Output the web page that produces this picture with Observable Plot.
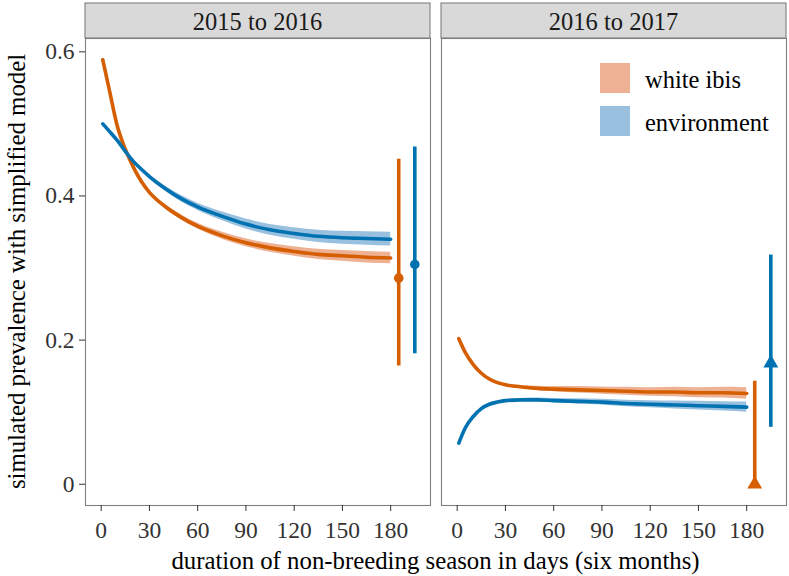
<!DOCTYPE html>
<html><head><meta charset="utf-8">
<script src="https://cdn.jsdelivr.net/npm/d3@7"></script>
<script src="https://cdn.jsdelivr.net/npm/@observablehq/plot@0.6"></script>
<style>
body{margin:0;background:#fff}
svg, svg text{font-family:"Liberation Serif","Times New Roman","DejaVu Serif",serif !important}
</style>
</head><body><div id="chart"></div>
<script>
// ---- data ----
const panels = ["2015 to 2016", "2016 to 2017"];
const seriesNames = ["white ibis", "environment"];
const lineColors = ["#D55E00", "#0072B2"];
const ribbonColors = ["#EEB193", "#99C1DF"];
const xTicks = [0, 30, 60, 90, 120, 150, 180];
const yTicks = [0, 0.2, 0.4, 0.6];
const xTitle = "duration of non-breeding season in days (six months)";
const yTitle = "simulated prevalence with simplified model";

const days = [1, 5, 10, 15, 20, 25, 30, 40, 50, 60, 75, 90, 105, 120, 135, 150, 165, 180];
// simulated prevalence (centre lines)
const ibis2015 = [0.589, 0.548, 0.497, 0.465, 0.440, 0.420, 0.405, 0.385, 0.370, 0.358, 0.345, 0.335, 0.328, 0.323, 0.319, 0.317, 0.315, 0.314];
const env2015  = [0.500, 0.490, 0.477, 0.462, 0.448, 0.437, 0.427, 0.410, 0.396, 0.385, 0.372, 0.361, 0.353, 0.348, 0.344, 0.342, 0.341, 0.340];
const ibis2016 = [0.202, 0.183, 0.166, 0.154, 0.146, 0.141, 0.138, 0.135, 0.133, 0.132, 0.131, 0.130, 0.129, 0.128, 0.128, 0.127, 0.127, 0.126];
const env2016  = [0.057, 0.078, 0.094, 0.105, 0.111, 0.114, 0.116, 0.117, 0.117, 0.116, 0.115, 0.114, 0.112, 0.111, 0.110, 0.109, 0.108, 0.107];
// half-width of the simulation ribbons
const ibis2015Spread = [0, 0, 0.0005, 0.001, 0.001, 0.0015, 0.002, 0.003, 0.0035, 0.004, 0.005, 0.0055, 0.006, 0.0065, 0.007, 0.0075, 0.008, 0.008];
const env2015Spread  = [0, 0, 0.0005, 0.001, 0.0015, 0.002, 0.0025, 0.0035, 0.0045, 0.005, 0.006, 0.007, 0.0075, 0.008, 0.0085, 0.009, 0.0095, 0.0095];
const ibis2016Spread = [0, 0, 0, 0.0005, 0.001, 0.001, 0.0015, 0.002, 0.003, 0.0035, 0.0045, 0.005, 0.0055, 0.006, 0.0065, 0.007, 0.0075, 0.008];
const env2016Spread  = [0, 0, 0, 0.0005, 0.001, 0.001, 0.0015, 0.002, 0.0025, 0.003, 0.0035, 0.004, 0.0045, 0.005, 0.0055, 0.006, 0.0065, 0.007];

// observed prevalence with intervals
const obsPanel  = ["2015 to 2016", "2015 to 2016", "2016 to 2017", "2016 to 2017"];
const obsSeries = ["white ibis", "environment", "white ibis", "environment"];
const obsDay    = [185, 195, 185, 195];
const obsMid    = [0.286, 0.305, 0.000, 0.168];
const obsLow    = [0.164, 0.181, 0.000, 0.079];
const obsHigh   = [0.451, 0.468, 0.143, 0.318];
const obsShape  = ["circle", "circle", "triangle", "triangle"];

// ---- tables ----
const curveSets = [
  [panels[0], seriesNames[0], ibis2015, ibis2015Spread],
  [panels[0], seriesNames[1], env2015, env2015Spread],
  [panels[1], seriesNames[0], ibis2016, ibis2016Spread],
  [panels[1], seriesNames[1], env2016, env2016Spread]
];
const curves = curveSets.flatMap(([panel, series, vals, spread]) =>
  days.map((d, i) => ({panel, series, day: d, y: vals[i], lo: vals[i] - spread[i], hi: vals[i] + spread[i]})));
const obs = obsPanel.map((p, i) => ({panel: p, series: obsSeries[i], day: obsDay[i], mid: obsMid[i], low: obsLow[i], high: obsHigh[i], shape: obsShape[i]}));

const W = 789, H = 576;
const FONT = '"Liberation Serif", "Times New Roman", serif';
const TICK_FS = 23.5, TITLE_FS = 24.8;
const marks = [];
seriesNames.forEach((s, k) => {
  marks.push(Plot.areaY(curves.filter(d => d.series === s), {fx: "panel", x: "day", y1: "lo", y2: "hi", fill: ribbonColors[k], curve: "monotone-x"}));
});
seriesNames.forEach((s, k) => {
  marks.push(Plot.line(curves.filter(d => d.series === s), {fx: "panel", x: "day", y: "y", stroke: lineColors[k], strokeWidth: 3.6, curve: "monotone-x"}));
});
seriesNames.forEach((s, k) => {
  const o = obs.filter(d => d.series === s);
  marks.push(Plot.ruleX(o, {fx: "panel", x: "day", y1: "low", y2: "high", stroke: lineColors[k], strokeWidth: 3.6}));
  marks.push(Plot.dot(o.filter(d => d.shape === "circle"), {fx: "panel", x: "day", y: "mid", fill: lineColors[k], symbol: "circle", r: 4.8}));
  marks.push(Plot.dot(o.filter(d => d.shape === "triangle"), {fx: "panel", x: "day", y: "mid", fill: lineColors[k], symbol: "triangle", r: 5.5}));
});
marks.push(Plot.frame({stroke: "#7f7f7f", strokeWidth: 1.1}));
marks.push(Plot.axisX({ticks: xTicks, tickSize: 6, tickPadding: 10, fontSize: TICK_FS, color: "#333", label: null}));
marks.push(Plot.axisY({ticks: yTicks, tickSize: 6, tickPadding: 5, fontSize: TICK_FS, color: "#333", label: null, tickFormat: d => String(d), facetAnchor: "left"}));

const chart = Plot.plot({
  width: W, height: H,
  marginLeft: 84, marginRight: 2, marginTop: 38, marginBottom: 71,
  style: {fontFamily: FONT, fontSize: "22px", background: "#fff", overflow: "visible"},
  fx: {domain: panels, paddingInner: 0.0308, paddingOuter: 0, axis: null, label: null},
  x: {domain: [-9.75, 204.75], axis: null},
  y: {domain: [-0.0295, 0.6185], axis: null},
  marks
});
chart.setAttribute("font-family", FONT);
document.getElementById("chart").appendChild(chart);

// ---- strips, titles, legend ----
const svg = d3.select(chart);
const fx = chart.scale("fx");
panels.forEach(p => {
  const x0 = fx.apply(p), bw = fx.bandwidth;
  svg.append("rect").attr("x", x0).attr("y", 3).attr("width", bw).attr("height", 35)
    .attr("fill", "#d9d9d9").attr("stroke", "#7f7f7f").attr("stroke-width", 1.1);
  svg.append("text").attr("x", x0 + bw / 2).attr("y", 30).attr("text-anchor", "middle")
    .attr("font-size", 24.5).attr("fill", "#1a1a1a").text(p);
});
const xs0 = fx.apply(panels[0]), xs1 = fx.apply(panels[1]) + fx.bandwidth;
svg.append("text").attr("x", (xs0 + xs1) / 2).attr("y", 569).attr("text-anchor", "middle")
  .attr("font-size", TITLE_FS).attr("fill", "#000").text(xTitle);
svg.append("text").attr("transform", `translate(25,${(38 + 505) / 2}) rotate(-90)`).attr("text-anchor", "middle")
  .attr("font-size", TITLE_FS).attr("fill", "#000").text(yTitle);
const lg = svg.append("g");
seriesNames.forEach((s, k) => {
  const y = 63 + k * 43;
  lg.append("rect").attr("x", 600).attr("y", y).attr("width", 30).attr("height", 30).attr("fill", ribbonColors[k]);
  lg.append("text").attr("x", 645).attr("y", y + 25).attr("text-anchor", "start").attr("font-size", 24.5).attr("fill", "#000").text(s);
});
</script>
</body></html>
